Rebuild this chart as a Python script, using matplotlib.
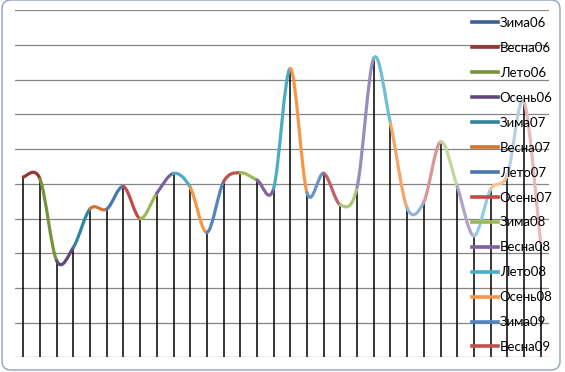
import matplotlib
matplotlib.use("Agg")
import matplotlib.pyplot as plt
from matplotlib.path import Path
from matplotlib.patches import PathPatch, FancyBboxPatch
from matplotlib.lines import Line2D
from matplotlib.transforms import IdentityTransform

# ---- data ----
seasons = ["Зима", "Весна", "Лето", "Осень"]
series_names = [f"{seasons[i % 4]}{6 + i // 4:02d}" for i in range(32)]
values = [5.20, 5.14, 2.78, 3.17, 4.28, 4.27, 4.92, 4.00, 4.73, 5.30,
          4.90, 3.60, 5.06, 5.32, 5.11, 4.87, 8.32, 4.74, 5.30, 4.39,
          4.90, 8.62, 6.74, 4.30, 4.48, 6.21, 4.92, 3.50, 4.84, 5.25,
          7.37, 3.28]
series_colors = ["#3F6294", "#943634", "#77933C", "#5F497A", "#31859C", "#D0742E",
                 "#4A76B0", "#BE4B48", "#98B954", "#7D60A0", "#4BACC6", "#F79646",
                 "#5284BF", "#C0504D", "#9BBB59", "#8064A2", "#4BACC6", "#F79646",
                 "#6A93C8", "#C06068", "#A9C77A", "#9A8BBE", "#71BDD2", "#F5A565",
                 "#95B3D7", "#D99694", "#C3D69B", "#B3A2C7", "#93CDDD", "#FAC090",
                 "#B9CDE5", "#E6B9B8"]
legend_count = 14

W, H = 565, 372
fig = plt.figure(figsize=(W / 100, H / 100), dpi=100)
fig.patch.set_facecolor("white")

left, right, top, bottom = 15, 549, 10.3, 357.3
ax = fig.add_axes([left / W, 1 - bottom / H, (right - left) / W, (bottom - top) / H])
ax.set_xlim(-0.5, len(values) - 0.5)
ax.set_ylim(0, 10)
for s in ax.spines.values():
    s.set_visible(False)
ax.set_xticks([])
ax.set_yticks([])
ax.patch.set_alpha(0)

# gridlines
for g in range(0, 11):
    ax.axhline(g, color="#868686", lw=0.9, zorder=1)

# drop lines
xs = list(range(len(values)))
ax.vlines(xs, 0, values, color="black", lw=1.1, zorder=2)

# smoothed segments (Catmull-Rom style Bezier like Excel smoothing)
n = len(values)
for k in range(n - 1):
    p_prev = (xs[max(k - 1, 0)], values[max(k - 1, 0)])
    p0 = (xs[k], values[k])
    p1 = (xs[k + 1], values[k + 1])
    p_next = (xs[min(k + 2, n - 1)], values[min(k + 2, n - 1)])
    c1 = (p0[0] + (p1[0] - p_prev[0]) / 6, p0[1] + (p1[1] - p_prev[1]) / 6)
    c2 = (p1[0] - (p_next[0] - p0[0]) / 6, p1[1] - (p_next[1] - p0[1]) / 6)
    path = Path([p0, c1, c2, p1], [Path.MOVETO, Path.CURVE4, Path.CURVE4, Path.CURVE4])
    ax.add_patch(PathPatch(path, facecolor="none", edgecolor=series_colors[k + 1],
                           lw=2.3, capstyle="round", zorder=3 + k * 0.01))

# legend
handles = [Line2D([], [], color=series_colors[i], lw=2.6) for i in range(legend_count)]
leg = fig.legend(handles, series_names[:legend_count], loc="upper left",
                 bbox_to_anchor=(472 / W, 1 - 17 / H), frameon=False,
                 prop={"family": ["Lato", "DejaVu Sans"], "size": 9.5},
                 handlelength=1.95, handletextpad=0.15, labelspacing=0.98,
                 borderpad=0, borderaxespad=0)
leg.set_zorder(10)

# chart border
border = FancyBboxPatch((2, 2), 558, 370, boxstyle="round,pad=0,rounding_size=9",
                        facecolor="none", edgecolor="#8EA2BE", lw=1.0,
                        transform=IdentityTransform())
fig.patches.append(border)

fig.savefig("out.png", dpi=100)
